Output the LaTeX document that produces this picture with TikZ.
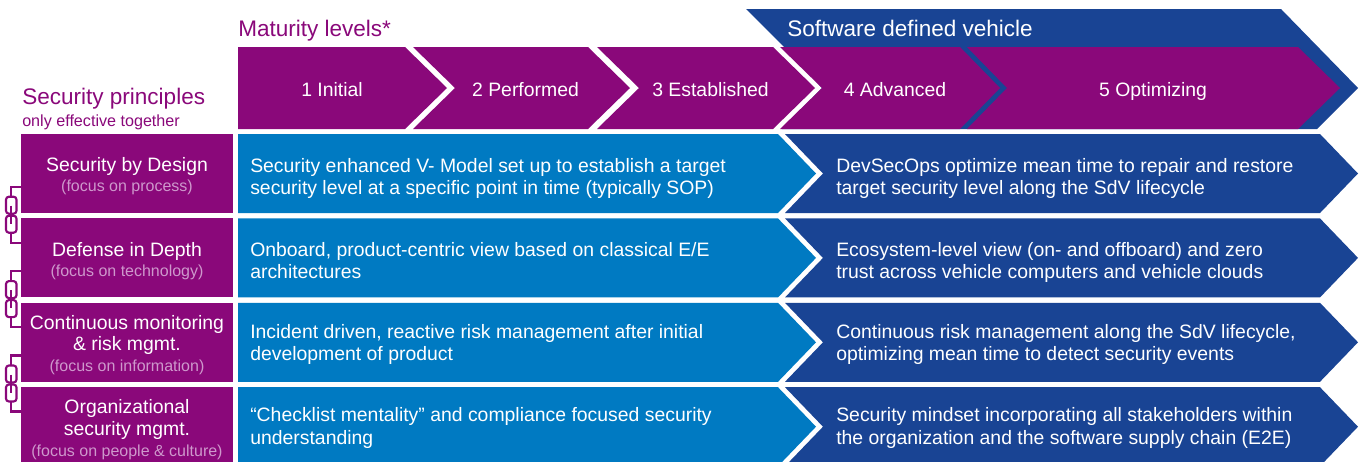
\documentclass[tikz,border=0pt]{standalone}
\usepackage{fontspec}
\setmainfont{Liberation Sans}
\definecolor{purp}{RGB}{138,8,122}
\definecolor{lblue}{RGB}{0,122,194}
\definecolor{dblue}{RGB}{25,68,148}
\definecolor{subtxt}{RGB}{206,152,204}
\tikzset{
  maintxt/.style={text=white, inner sep=0pt, font=\fontsize{14.55}{17}\selectfont},
  subtxtstyle/.style={text=subtxt, inner sep=0pt, font=\fontsize{12}{14}\selectfont},
  hdr/.style={text=purp, inner sep=0pt, font=\fontsize{16.9}{20}\selectfont},
  hdrsmall/.style={text=purp, inner sep=0pt, font=\fontsize{12.1}{14}\selectfont},
  chainline/.style={draw=purp, line width=1.6pt},
}
\begin{document}
\begin{tikzpicture}[x=0.75pt,y=-0.75pt]
\useasboundingbox (0,0) rectangle (1363,461);
\clip (0,0) rectangle (1363,461);
\fill[white] (0,0) rectangle (1363,461);

% Banner: software defined vehicle
\fill[dblue] (746,9) -- (1281,9) -- (1358,88) -- (1317,129) -- (782,129) -- (822,88) -- (784,47) -- cycle;
\node[maintxt, font=\fontsize{16.9}{20}\selectfont, anchor=base west] (sdv) at (787,36.7) {Software defined vehicle};

% Maturity chevrons
\fill[purp] (238,47) -- (405,47) -- (447,88) -- (405,129) -- (238,129) -- cycle;
\fill[purp] (413,47) -- (588,47) -- (630,88) -- (588,129) -- (413,129) -- (455,88) -- cycle;
\fill[purp] (597,47) -- (773,47) -- (815,88) -- (773,129) -- (597,129) -- (639,88) -- cycle;
\fill[purp] (780,47) -- (960,47) -- (1000,88) -- (960,129) -- (780,129) -- (822,88) -- cycle;
\fill[purp] (967,47) -- (1298,47) -- (1340,88) -- (1298,129) -- (967,129) -- (1007,88) -- cycle;

\node[maintxt, anchor=base] (m1) at (332,96) {1 Initial};
\node[maintxt, anchor=base] (m2) at (525.5,96) {2 Performed};
\node[maintxt, anchor=base] (m3) at (710.5,96) {3 Established};
\node[maintxt, anchor=base] (m4) at (895,96) {4 Advanced};
\node[maintxt, anchor=base] (m5) at (1153,96) {5 Optimizing};

% Headers
\node[hdr, anchor=base west] (mat) at (238,36.7) {Maturity levels*};
\node[hdr, anchor=base west] (secp) at (22,104.5) {Security principles};
\node[hdrsmall, anchor=base west] (onlyeff) at (22,126.5) {only effective together};

% Rows
\foreach \t in {134,218.4,302.8,387.2}{
  \pgfmathsetmacro\b{\t+79}
  \pgfmathsetmacro\m{\t+39.5}
  \fill[purp] (21,\t) rectangle (233,\b);
  \fill[lblue] (238,\t) -- (778,\t) -- (816,\m) -- (778,\b) -- (238,\b) -- cycle;
  \fill[dblue] (785,\t) -- (1320,\t) -- (1358,\m) -- (1320,\b) -- (785,\b) -- (823,\m) -- cycle;
}

% Chains
\foreach \c in {214.7,299.1,383.5}{
  \draw[chainline] (21,\c-28) -- (11,\c-28) -- (11,\c-18);
  \draw[chainline, rounded corners=2.2pt] (6,\c-18) rectangle (16.5,\c-1);
  \draw[chainline, rounded corners=2.2pt] (6,\c+1) rectangle (16.5,\c+18);
  \draw[chainline] (11,\c-9) -- (11,\c+9);
  \draw[chainline] (11,\c+18) -- (11,\c+28) -- (21,\c+28);
}

% Left principle texts
\node[maintxt, anchor=base] (p1a) at (127,171.5) {Security by Design};
\node[subtxtstyle, anchor=base] (p1s) at (127,191.7) {(focus on process)};
\node[maintxt, anchor=base] (p2a) at (127,256) {Defense in Depth};
\node[subtxtstyle, anchor=base] (p2s) at (127,276.2) {(focus on technology)};
\node[maintxt, anchor=base] (p3a) at (127,329.1) {Continuous monitoring};
\node[maintxt, anchor=base] (p3b) at (127,350.9) {\& risk mgmt.};
\node[subtxtstyle, anchor=base] (p3s) at (127,371.9) {(focus on information)};
\node[maintxt, anchor=base] (p4a) at (127,413.5) {Organizational};
\node[maintxt, anchor=base] (p4b) at (127,435.3) {security mgmt.};
\node[subtxtstyle, anchor=base] (p4s) at (127,456.3) {(focus on people \& culture)};

% Middle (levels 1-3) texts
\node[maintxt, anchor=base west] (l1a) at (250,172.3) {Security enhanced V- Model set up to establish a target};
\node[maintxt, anchor=base west] (l1b) at (250,194.8) {security level at a specific point in time (typically SOP)};
\node[maintxt, anchor=base west] (l2a) at (250,256.4) {Onboard, product-centric view based on classical E/E};
\node[maintxt, anchor=base west] (l2b) at (250,278.9) {architectures};
\node[maintxt, anchor=base west] (l3a) at (250,338.3) {Incident driven, reactive risk management after initial};
\node[maintxt, anchor=base west] (l3b) at (250,360.8) {development of product};
\node[maintxt, anchor=base west] (l4a) at (250,421.7) {“Checklist mentality” and compliance focused security};
\node[maintxt, anchor=base west] (l4b) at (250,444.2) {understanding};

% Right (levels 4-5) texts
\node[maintxt, anchor=base west] (r1a) at (836,172.3) {DevSecOps optimize mean time to repair and restore};
\node[maintxt, anchor=base west] (r1b) at (836,194.8) {target security level along the SdV lifecycle};
\node[maintxt, anchor=base west] (r2a) at (836,256.4) {Ecosystem-level view (on- and offboard) and zero};
\node[maintxt, anchor=base west] (r2b) at (836,278.9) {trust across vehicle computers and vehicle clouds};
\node[maintxt, anchor=base west] (r3a) at (836,338.3) {Continuous risk management along the SdV lifecycle,};
\node[maintxt, anchor=base west] (r3b) at (836,360.8) {optimizing mean time to detect security events};
\node[maintxt, anchor=base west] (r4a) at (836,421.7) {Security mindset incorporating all stakeholders within};
\node[maintxt, anchor=base west] (r4b) at (836,444.2) {the organization and the software supply chain (E2E)};
\end{tikzpicture}
\end{document}
